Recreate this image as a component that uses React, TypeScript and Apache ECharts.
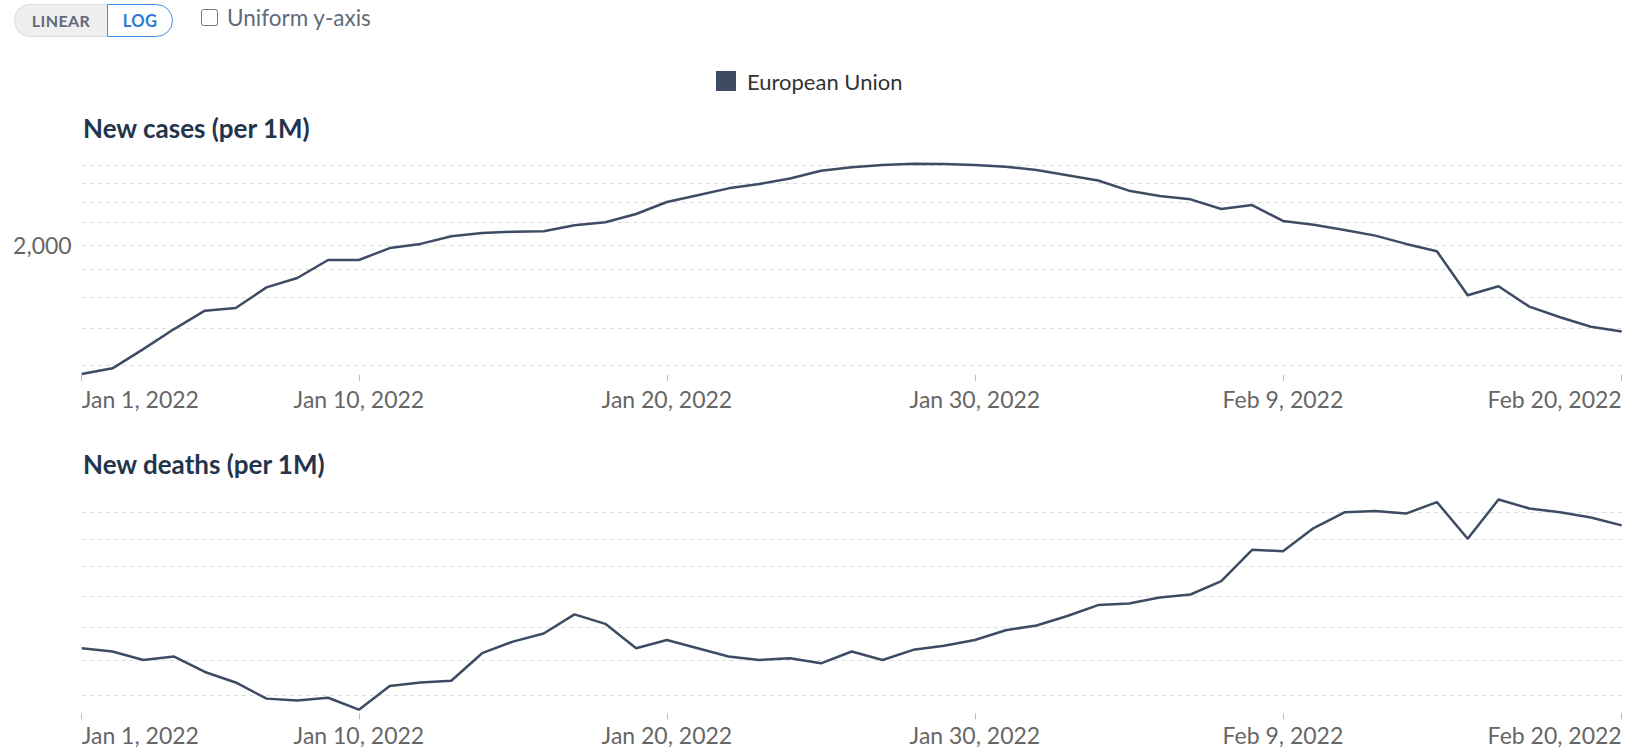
import React, { useEffect, useRef } from "react";
import * as echarts from "echarts";

const categories = [
  "Jan 1, 2022", "Jan 2, 2022", "Jan 3, 2022", "Jan 4, 2022", "Jan 5, 2022", "Jan 6, 2022", "Jan 7, 2022",
  "Jan 8, 2022", "Jan 9, 2022", "Jan 10, 2022", "Jan 11, 2022", "Jan 12, 2022", "Jan 13, 2022", "Jan 14, 2022",
  "Jan 15, 2022", "Jan 16, 2022", "Jan 17, 2022", "Jan 18, 2022", "Jan 19, 2022", "Jan 20, 2022", "Jan 21, 2022",
  "Jan 22, 2022", "Jan 23, 2022", "Jan 24, 2022", "Jan 25, 2022", "Jan 26, 2022", "Jan 27, 2022", "Jan 28, 2022",
  "Jan 29, 2022", "Jan 30, 2022", "Jan 31, 2022", "Feb 1, 2022", "Feb 2, 2022", "Feb 3, 2022", "Feb 4, 2022",
  "Feb 5, 2022", "Feb 6, 2022", "Feb 7, 2022", "Feb 8, 2022", "Feb 9, 2022", "Feb 10, 2022", "Feb 11, 2022",
  "Feb 12, 2022", "Feb 13, 2022", "Feb 14, 2022", "Feb 15, 2022", "Feb 16, 2022", "Feb 17, 2022", "Feb 18, 2022",
  "Feb 19, 2022", "Feb 20, 2022",
];

const casesPerMillion = [
  1155, 1183, 1284, 1398, 1512, 1529, 1669, 1737, 1875, 1875,
  1973, 2008, 2074, 2103, 2115, 2119, 2174, 2202, 2280, 2400,
  2469, 2543, 2591, 2652, 2741, 2781, 2808, 2824, 2820, 2808,
  2788, 2750, 2689, 2629, 2518, 2462, 2427, 2329, 2369, 2214,
  2179, 2131, 2080, 2008, 1946, 1614, 1677, 1538, 1470, 1412,
  1383,
];

const deathsPerMillion = [
  3.27, 3.25, 3.2, 3.22, 3.13, 3.07, 2.98, 2.97, 2.985, 2.92,
  3.05, 3.07, 3.08, 3.24, 3.31, 3.36, 3.48, 3.42, 3.27, 3.32,
  3.27, 3.22, 3.2, 3.21, 3.18, 3.25, 3.2, 3.26, 3.285, 3.32,
  3.38, 3.41, 3.47, 3.54, 3.55, 3.59, 3.61, 3.7, 3.92, 3.91,
  4.08, 4.2, 4.21, 4.19, 4.28, 4.0, 4.3, 4.23, 4.2, 4.16,
  4.1,
];

const casesGridValues = [1200, 1400, 1600, 1800, 2000, 2200, 2400, 2600, 2800];
const casesLabeledValues = [2000];
const deathsGridValues = [3.0, 3.2, 3.4, 3.6, 3.8, 4.0, 4.2];
const xTickIndices = [0, 9, 19, 29, 39, 50];

const SERIES_NAME = "European Union";
const LINE_COLOR = "#3e4c63";
const FONT = "Lato, 'Noto Sans', sans-serif";

function gridMarkLine(values: number[], labeled: number[]) {
  return {
    silent: true,
    z: 1,
    symbol: ["none", "none"],
    lineStyle: { type: [4, 4], color: "#dcdcdc", width: 1 },
    label: { show: false },
    emphasis: { disabled: true },
    data: values.map((v) => ({
      yAxis: v,
      label: labeled.includes(v)
        ? {
            show: true,
            position: "start",
            distance: 10,
            formatter: () => v.toLocaleString("en-US"),
            fontSize: 23,
            color: "#666",
            fontFamily: FONT,
          }
        : { show: false },
    })),
  };
}

export default function App() {
  const ref = useRef<HTMLDivElement>(null);

  useEffect(() => {
    if (!ref.current) return;
    const chart = echarts.init(ref.current, null, { renderer: "svg" });
    const tickSet = new Set(xTickIndices);
    const showTick = (index: number) => tickSet.has(index);

    const xAxisBase = {
      type: "category",
      data: categories,
      boundaryGap: false,
      axisLine: { show: false },
      axisTick: { show: true, interval: showTick, length: 6, lineStyle: { color: "#bbb", width: 1 } },
      axisLabel: {
        interval: showTick,
        fontSize: 23,
        color: "#666",
        fontFamily: FONT,
        margin: 12,
        alignMinLabel: "left",
        alignMaxLabel: "right",
      },
      splitLine: { show: false },
    };
    const yAxisBase = {
      type: "log",
      logBase: 10,
      axisLine: { show: false },
      axisTick: { show: false },
      axisLabel: { show: false },
      splitLine: { show: false },
    };

    chart.setOption({
      animation: false,
      backgroundColor: "#fff",
      textStyle: { fontFamily: FONT },
      legend: {
        data: [SERIES_NAME],
        left: 716,
        top: 70,
        padding: 0,
        icon: "rect",
        itemWidth: 20,
        itemHeight: 20,
        selectedMode: false,
        textStyle: { fontSize: 22, color: "#333", fontFamily: FONT, padding: [0, 0, 0, 6] },
      },
      graphic: [
        {
          type: "text",
          left: 83,
          top: 115,
          style: { text: "New cases (per 1M)", font: `bold 26px ${FONT}`, fill: "#23344d" },
        },
        {
          type: "text",
          left: 83,
          top: 451,
          style: { text: "New deaths (per 1M)", font: `bold 26px ${FONT}`, fill: "#23344d" },
        },
      ],
      grid: [
        { left: 81.7, right: 4.3, top: 161.55, height: 213.45 },
        { left: 81.7, right: 4.3, top: 497, height: 216.4 },
      ],
      xAxis: [
        { ...xAxisBase, gridIndex: 0 },
        { ...xAxisBase, gridIndex: 1, axisLabel: { ...xAxisBase.axisLabel, margin: 10 } },
      ],
      yAxis: [
        { ...yAxisBase, gridIndex: 0, min: 1150, max: 2850 },
        { ...yAxisBase, gridIndex: 1, min: 2.9, max: 4.32 },
      ],
      series: [
        {
          name: SERIES_NAME,
          type: "line",
          xAxisIndex: 0,
          yAxisIndex: 0,
          data: casesPerMillion,
          symbol: "none",
          z: 3,
          color: LINE_COLOR,
          lineStyle: { width: 2.5, color: LINE_COLOR },
          itemStyle: { color: LINE_COLOR },
          markLine: gridMarkLine(casesGridValues, casesLabeledValues),
        },
        {
          name: SERIES_NAME,
          type: "line",
          xAxisIndex: 1,
          yAxisIndex: 1,
          data: deathsPerMillion,
          symbol: "none",
          z: 3,
          color: LINE_COLOR,
          lineStyle: { width: 2.5, color: LINE_COLOR },
          itemStyle: { color: LINE_COLOR },
          markLine: gridMarkLine(deathsGridValues, []),
        },
      ],
    });
    return () => chart.dispose();
  }, []);

  return (
    <div style={{ position: "absolute", left: 0, top: 0, width: 1626, height: 749, background: "#fff", fontFamily: FONT }}>
      <div ref={ref} style={{ position: "absolute", left: 0, top: 0, width: 1626, height: 749 }} />
      <div style={{ position: "absolute", left: 14, top: 4, height: 33, display: "flex" }}>
        <div
          style={{
            width: 93,
            height: 33,
            boxSizing: "border-box",
            background: "#efefef",
            border: "1px solid #dcdcdc",
            borderRight: "none",
            borderRadius: "17px 0 0 17px",
            display: "flex",
            alignItems: "center",
            justifyContent: "center",
            fontSize: 16,
            fontWeight: 700,
            color: "#5f6b7b",
            letterSpacing: 0.4,
          }}
        >
          LINEAR
        </div>
        <div
          style={{
            width: 66,
            height: 33,
            boxSizing: "border-box",
            background: "#fff",
            border: "1.5px solid #3b8ee6",
            borderRadius: "0 17px 17px 0",
            display: "flex",
            alignItems: "center",
            justifyContent: "center",
            fontSize: 16.5,
            fontWeight: 700,
            color: "#2a7bd6",
            letterSpacing: 0.4,
          }}
        >
          LOG
        </div>
      </div>
      <input
        type="checkbox"
        readOnly
        style={{ position: "absolute", left: 201, top: 9, width: 17, height: 17, margin: 0 }}
      />
      <span
        style={{
          position: "absolute",
          left: 227,
          top: 8,
          fontSize: 22.5,
          lineHeight: "20px",
          color: "#5f6b7b",
          whiteSpace: "nowrap",
        }}
      >
        Uniform y-axis
      </span>
    </div>
  );
}
